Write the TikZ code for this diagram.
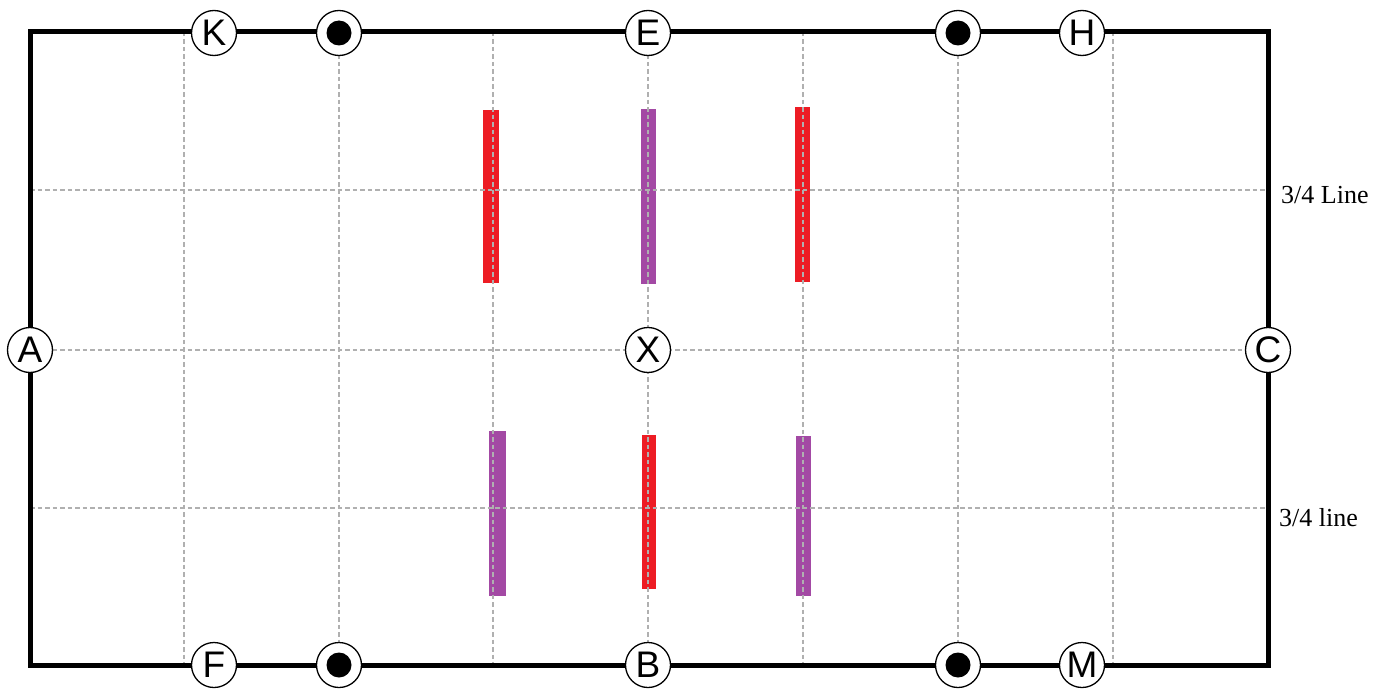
\documentclass[tikz,border=0pt]{standalone}
\usepackage{fontspec}
\setmainfont{Liberation Serif}
\newfontfamily\letterfont{Liberation Sans}
\definecolor{polered}{HTML}{ED1C24}
\definecolor{polepurple}{HTML}{A349A4}
\definecolor{gridgray}{HTML}{B0B0B0}
\begin{document}
\begin{tikzpicture}[x=1pt,y=-1pt,
  gridline/.style={draw=gridgray,line width=1.8pt,dash pattern=on 4.5pt off 3pt},
  border/.style={line width=5pt,line join=miter},
  marker/.style={circle,draw=black,fill=white,line width=1.3pt,minimum size=45pt,inner sep=0pt,font=\letterfont\fontsize{37}{37}\selectfont},
  redpole/.style={fill=polered},
  purplepole/.style={fill=polepurple},
  lbl/.style={anchor=west,font=\fontsize{26}{26}\selectfont,inner sep=0pt}]
\useasboundingbox (0,0) rectangle (1390,693);
% poles
\fill[redpole] (483,110) rectangle (499,283);
\fill[purplepole] (641,109) rectangle (656,284);
\fill[redpole] (795,107) rectangle (810,282);
\fill[purplepole] (489,431) rectangle (506,596);
\fill[redpole] (642,435) rectangle (656,589);
\fill[purplepole] (796,436) rectangle (811,596);
% grid
\foreach \x in {184,339,493,648,803,958,1113}
  \draw[gridline] (\x,32) -- (\x,665);
\foreach \y in {190,350,508}
  \draw[gridline] (30,\y) -- (1268,\y);
% border
\draw[border] (30,32) rectangle (1268,665);
% markers
\node[marker] (K) at (214,33) {K};
\node[marker] (d1) at (339,33) {};
\node[marker] (E) at (648,33) {E};
\node[marker] (d2) at (958,33) {};
\node[marker] (H) at (1082,33) {H};
\node[marker] (A) at (30,350) {A};
\node[marker] (X) at (648,350) {X};
\node[marker] (C) at (1268,350) {C};
\node[marker] (F) at (214,665) {F};
\node[marker] (d3) at (339,665) {};
\node[marker] (B) at (648,665) {B};
\node[marker] (d4) at (958,665) {};
\node[marker] (M) at (1082,665) {M};
\foreach \d in {d1,d2,d3,d4}
  \fill (\d) circle (12.5);
% labels
\node[lbl] (l1) at (1281,195) {3/4 Line};
\node[lbl] (l2) at (1279,518) {3/4 line};
\end{tikzpicture}
\end{document}
